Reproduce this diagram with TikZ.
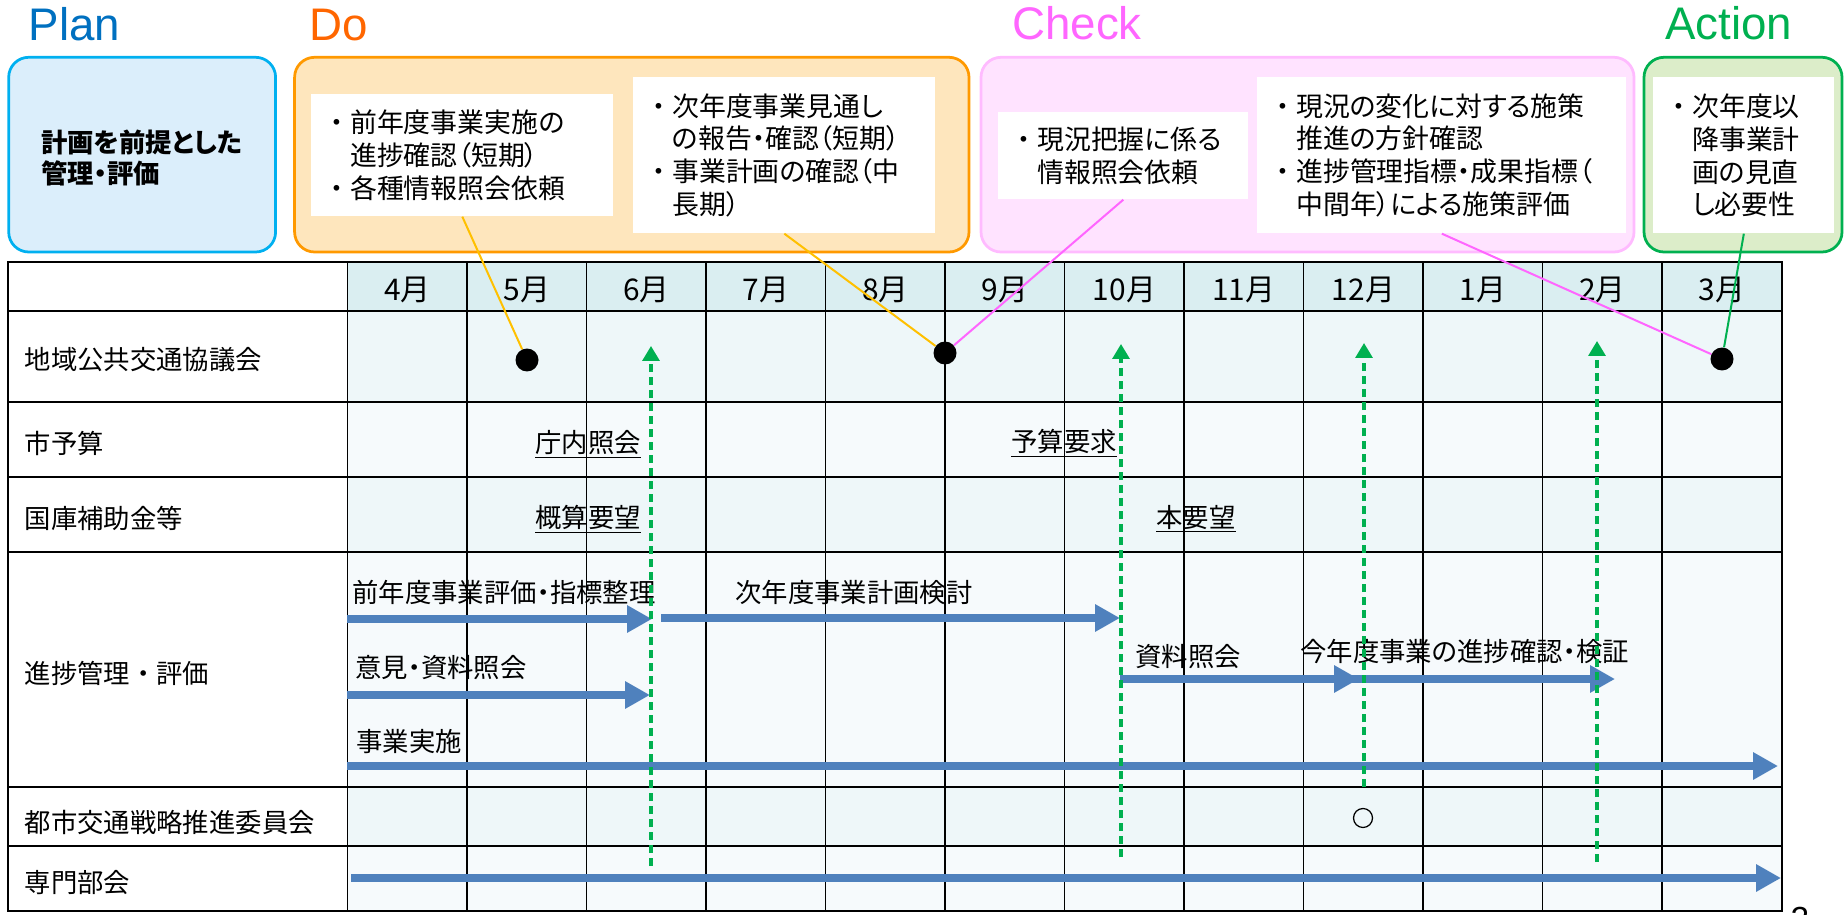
\documentclass[tikz,border=0pt]{standalone}
\usepackage{fontspec}
\setmainfont{Noto Sans CJK JP}[RawFeature=+palt]
\newfontfamily\latfont{Liberation Sans}
\usepackage{tikz}
\usetikzlibrary{arrows.meta}

\definecolor{plancol}{HTML}{0070C0}
\definecolor{docol}{HTML}{FF6600}
\definecolor{checkcol}{HTML}{FF66FF}
\definecolor{actcol}{HTML}{00B050}
\definecolor{planfill}{HTML}{DBEEFB}
\definecolor{planline}{HTML}{00B0F0}
\definecolor{dofill}{HTML}{FEE6BD}
\definecolor{doline}{HTML}{FF9900}
\definecolor{checkfill}{HTML}{FFE3FF}
\definecolor{checkline}{HTML}{FFBBFF}
\definecolor{actfill}{HTML}{DCEDC9}
\definecolor{headfill}{HTML}{DAEEF1}
\definecolor{bandA}{HTML}{EEF7F9}
\definecolor{bandB}{HTML}{F6FAFC}
\definecolor{flowblue}{HTML}{4F81BD}
\definecolor{calloutyel}{HTML}{FFC000}

\newcommand{\bul}{\makebox[1em][c]{・}}
\newcommand{\ind}{\hspace*{1em}}

\tikzset{
  phasebox/.style={line width=0.055cm, rounded corners=0.4cm},
  pdca/.style={font=\latfont\fontsize{26}{30}\selectfont, anchor=base west, inner sep=0},
  note/.style={fill=white, anchor=north west, align=left, inner xsep=0.24cm, inner ysep=0,
    font=\fontsize{15.3}{18.7}\selectfont},
  lbl/.style={anchor=west, inner sep=0, font=\fontsize{15}{18}\selectfont},
  month/.style={inner sep=0, font=\fontsize{17}{20}\selectfont},
  budget/.style={inner sep=0, font=\fontsize{15}{18}\selectfont},
  flowarrow/.style={flowblue, line width=0.16cm, -{Triangle[length=0.5cm,width=0.52cm]}},
  linkarrow/.style={actcol, line width=0.065cm, dash pattern=on 0.16cm off 0.1cm,
    -{Triangle[length=0.3cm,width=0.34cm]}},
  mtg/.style={circle, fill=black, inner sep=0, minimum size=0.46cm},
  callout/.style={line width=0.04cm}
}

\begin{document}
\begin{tikzpicture}[x=0.02cm, y=-0.02cm]
  \useasboundingbox (0,0) rectangle (1845,915);

  \node[pdca, plancol] (plan) at (28.5,40.7) {Plan};
  \node[pdca, docol] (do) at (309,40.7) {Do};
  \node[pdca, checkcol] (check) at (1012,39.3) {Check};
  \node[pdca, actcol] (action) at (1665,40) {Action};

  \draw[phasebox, planline, fill=planfill] (8.7,57.3) rectangle (275.6,252);
  \draw[phasebox, doline, fill=dofill] (294.6,57.3) rectangle (969,252);
  \draw[phasebox, checkline, fill=checkfill] (981,57.3) rectangle (1634,252);
  \draw[phasebox, actcol, fill=actfill] (1644,57.3) rectangle (1842,252);

  \node[font=\bfseries\fontsize{15}{17.6}\selectfont, align=left, inner sep=0] (plantxt) at (142,158)
    {計画を前提とした\\管理・評価};

  \node[note, text width=5.56cm, minimum height=2.44cm] (do1) at (311,94)
    {\bul 前年度事業実施の\\\ind 進捗確認（短期）\\\bul 各種情報照会依頼};
  \node[note, text width=5.56cm, minimum height=3.12cm] (do2) at (633,77)
    {\bul 次年度事業見通し\\\ind の報告・確認（短期）\\\bul 事業計画の確認（中\\\ind 長期）};
  \node[note, text width=4.52cm, minimum height=1.74cm] (chk1) at (998,112)
    {\bul 現況把握に係る\\\ind 情報照会依頼};
  \node[note, text width=6.9cm, minimum height=3.12cm] (chk2) at (1257,77)
    {\bul 現況の変化に対する施策\\\ind 推進の方針確認\\\bul 進捗管理指標・成果指標（\\\ind 中間年）による施策評価};
  \node[note, text width=3.14cm, minimum height=3.12cm] (act1) at (1653,77)
    {\bul 次年度以\\\ind 降事業計\\\ind 画の見直\\\ind し必要性};

  \fill[headfill] (347.6,262) rectangle (1781.6,311);
  \foreach \ya/\yb/\c in {311/402/bandA, 402/477/bandB, 477/552/bandA, 552/787/bandB, 787/846/bandA, 846/911/bandB}
    \fill[\c] (347.6,\ya) rectangle (1781.6,\yb);
  \foreach \y in {311,402,477,552,787,846}
    \draw[line width=0.035cm] (8,\y) -- (1781.6,\y);
  \foreach \i in {0,...,11}
    \draw[line width=0.035cm] ({347.6+119.5*\i},262) -- ({347.6+119.5*\i},911);
  \draw[line width=0.035cm] (8,262) rectangle (1781.6,911);

  \foreach \m [count=\i from 0] in {4,5,6,7,8,9,10,11,12,1,2,3}
    \node[month] (m\i) at ({347.6+119.5*(\i+0.5)},290) {\m{}月};

  \node[lbl] (council) at (24.5,360) {地域公共交通協議会};
  \node[lbl] (citybudget) at (24.5,443) {市予算};
  \node[lbl] (subsidy) at (24.5,518) {国庫補助金等};
  \node[lbl] (progress) at (24.5,673) {進捗管理\bul 評価};
  \node[lbl] (committee) at (24.5,822) {都市交通戦略推進委員会};
  \node[lbl] (expert) at (24.5,883) {専門部会};

  \node[budget] (chonai) at (588,444) {\underline{庁内照会}};
  \node[budget] (gaisan) at (588,519) {\underline{概算要望}};
  \node[budget] (yosan) at (1064,443) {\underline{予算要求}};
  \node[budget] (honyobo) at (1196,519) {\underline{本要望}};

  \node[lbl] (prevtxt) at (352,592) {前年度事業評価・指標整理};
  \node[lbl] (nexttxt) at (735,592) {次年度事業計画検討};
  \node[lbl] (opintxt) at (355,668) {意見・資料照会};
  \node[lbl] (datatxt) at (1135,657) {資料照会};
  \node[lbl] (curtxt) at (1300,651) {今年度事業の進捗確認・検証};
  \node[lbl] (impltxt) at (356,742) {事業実施};

  \coordinate (p1s) at (347,619);  \coordinate (p1e) at (652,619);
  \coordinate (p2s) at (661,618);  \coordinate (p2e) at (1120,618);
  \coordinate (p3s) at (347,695);  \coordinate (p3e) at (650,695);
  \coordinate (p4s) at (1120,679); \coordinate (p4e) at (1359,679);
  \coordinate (p5s) at (1345,679); \coordinate (p5e) at (1615,679);
  \coordinate (p6s) at (347,766);  \coordinate (p6e) at (1778,766);
  \coordinate (p7s) at (351,878);  \coordinate (p7e) at (1781,878);
  \draw[flowarrow] (p1s) -- (p1e);
  \draw[flowarrow] (p2s) -- (p2e);
  \draw[flowarrow] (p3s) -- (p3e);
  \draw[flowarrow] (p4s) -- (p4e);
  \draw[flowarrow] (p5s) -- (p5e);
  \draw[flowarrow] (p6s) -- (p6e);
  \draw[flowarrow] (p7s) -- (p7e);

  \coordinate (g1b) at (651,866);  \coordinate (g1t) at (651,346);
  \coordinate (g2b) at (1121,857); \coordinate (g2t) at (1121,344);
  \coordinate (g3b) at (1364,787); \coordinate (g3t) at (1364,343);
  \coordinate (g4b) at (1597,862); \coordinate (g4t) at (1597,341);
  \draw[linkarrow] (g1b) -- (g1t);
  \draw[linkarrow] (g2b) -- (g2t);
  \draw[linkarrow] (g3b) -- (g3t);
  \draw[linkarrow] (g4b) -- (g4t);

  \node[mtg] (may) at (527,360) {};
  \node[mtg] (aug) at (945,353) {};
  \node[mtg] (mar) at (1722,359) {};
  \node[draw, circle, inner sep=0, minimum size=0.38cm, line width=0.025cm] (dec) at (1363,818) {};

  \draw[callout, calloutyel] (do1.south) -- (may);
  \draw[callout, calloutyel] (do2.south) -- (aug);
  \draw[callout, checkcol] (chk1.south) -- (aug);
  \draw[callout, checkcol] (chk2.south) -- (mar);
  \draw[callout, actcol] (act1.south) -- (mar);

  \node[anchor=north, inner sep=0, font=\latfont\fontsize{19}{22}\selectfont] (pagenum) at (1800,907) {2};
\end{tikzpicture}
\end{document}
